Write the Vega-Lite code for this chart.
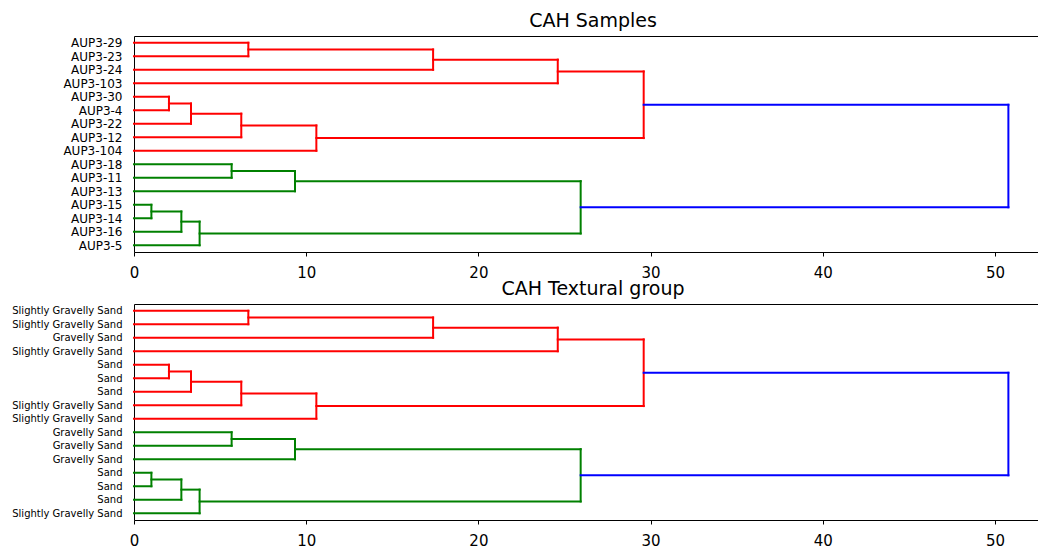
{
  "$schema": "https://vega.github.io/schema/vega-lite/v6.json",
  "padding": {"left": 11, "top": 12, "right": 0, "bottom": 0},
  "spacing": 0,
  "config": {
    "font": "DejaVu Sans",
    "view": {"stroke": null},
    "axis": {"domainColor": "black", "tickColor": "black", "labelColor": "black", "domainWidth": 1, "tickWidth": 1, "grid": false, "labelFont": "DejaVu Sans"},
    "title": {"font": "DejaVu Sans", "fontSize": 19, "fontWeight": "normal", "color": "black", "offset": 5, "baseline": "alphabetic", "dx": 7}
  },
  "datasets": {
    "links": [
      {"x": 0, "x2": 6.64, "y": 0.5, "y2": 0.5, "cluster": "C1"},
      {"x": 6.64, "x2": 6.64, "y": 0.5, "y2": 1.5, "cluster": "C1"},
      {"x": 0, "x2": 6.64, "y": 1.5, "y2": 1.5, "cluster": "C1"},
      {"x": 6.64, "x2": 17.37, "y": 1.0, "y2": 1.0, "cluster": "C1"},
      {"x": 17.37, "x2": 17.37, "y": 1.0, "y2": 2.5, "cluster": "C1"},
      {"x": 0, "x2": 17.37, "y": 2.5, "y2": 2.5, "cluster": "C1"},
      {"x": 17.37, "x2": 24.61, "y": 1.75, "y2": 1.75, "cluster": "C1"},
      {"x": 24.61, "x2": 24.61, "y": 1.75, "y2": 3.5, "cluster": "C1"},
      {"x": 0, "x2": 24.61, "y": 3.5, "y2": 3.5, "cluster": "C1"},
      {"x": 0, "x2": 2.03, "y": 4.5, "y2": 4.5, "cluster": "C1"},
      {"x": 2.03, "x2": 2.03, "y": 4.5, "y2": 5.5, "cluster": "C1"},
      {"x": 0, "x2": 2.03, "y": 5.5, "y2": 5.5, "cluster": "C1"},
      {"x": 2.03, "x2": 3.31, "y": 5.0, "y2": 5.0, "cluster": "C1"},
      {"x": 3.31, "x2": 3.31, "y": 5.0, "y2": 6.5, "cluster": "C1"},
      {"x": 0, "x2": 3.31, "y": 6.5, "y2": 6.5, "cluster": "C1"},
      {"x": 3.31, "x2": 6.23, "y": 5.75, "y2": 5.75, "cluster": "C1"},
      {"x": 6.23, "x2": 6.23, "y": 5.75, "y2": 7.5, "cluster": "C1"},
      {"x": 0, "x2": 6.23, "y": 7.5, "y2": 7.5, "cluster": "C1"},
      {"x": 6.23, "x2": 10.59, "y": 6.625, "y2": 6.625, "cluster": "C1"},
      {"x": 10.59, "x2": 10.59, "y": 6.625, "y2": 8.5, "cluster": "C1"},
      {"x": 0, "x2": 10.59, "y": 8.5, "y2": 8.5, "cluster": "C1"},
      {"x": 24.61, "x2": 29.6, "y": 2.625, "y2": 2.625, "cluster": "C1"},
      {"x": 29.6, "x2": 29.6, "y": 2.625, "y2": 7.5625, "cluster": "C1"},
      {"x": 10.59, "x2": 29.6, "y": 7.5625, "y2": 7.5625, "cluster": "C1"},
      {"x": 0, "x2": 5.67, "y": 9.5, "y2": 9.5, "cluster": "C2"},
      {"x": 5.67, "x2": 5.67, "y": 9.5, "y2": 10.5, "cluster": "C2"},
      {"x": 0, "x2": 5.67, "y": 10.5, "y2": 10.5, "cluster": "C2"},
      {"x": 5.67, "x2": 9.35, "y": 10.0, "y2": 10.0, "cluster": "C2"},
      {"x": 9.35, "x2": 9.35, "y": 10.0, "y2": 11.5, "cluster": "C2"},
      {"x": 0, "x2": 9.35, "y": 11.5, "y2": 11.5, "cluster": "C2"},
      {"x": 0, "x2": 1.01, "y": 12.5, "y2": 12.5, "cluster": "C2"},
      {"x": 1.01, "x2": 1.01, "y": 12.5, "y2": 13.5, "cluster": "C2"},
      {"x": 0, "x2": 1.01, "y": 13.5, "y2": 13.5, "cluster": "C2"},
      {"x": 1.01, "x2": 2.75, "y": 13.0, "y2": 13.0, "cluster": "C2"},
      {"x": 2.75, "x2": 2.75, "y": 13.0, "y2": 14.5, "cluster": "C2"},
      {"x": 0, "x2": 2.75, "y": 14.5, "y2": 14.5, "cluster": "C2"},
      {"x": 2.75, "x2": 3.81, "y": 13.75, "y2": 13.75, "cluster": "C2"},
      {"x": 3.81, "x2": 3.81, "y": 13.75, "y2": 15.5, "cluster": "C2"},
      {"x": 0, "x2": 3.81, "y": 15.5, "y2": 15.5, "cluster": "C2"},
      {"x": 9.35, "x2": 25.94, "y": 10.75, "y2": 10.75, "cluster": "C2"},
      {"x": 25.94, "x2": 25.94, "y": 10.75, "y2": 14.625, "cluster": "C2"},
      {"x": 3.81, "x2": 25.94, "y": 14.625, "y2": 14.625, "cluster": "C2"},
      {"x": 29.6, "x2": 50.78, "y": 5.09375, "y2": 5.09375, "cluster": "link"},
      {"x": 50.78, "x2": 50.78, "y": 5.09375, "y2": 12.6875, "cluster": "link"},
      {"x": 25.94, "x2": 50.78, "y": 12.6875, "y2": 12.6875, "cluster": "link"}
    ]
  },
  "vconcat": [
    {
      "title": {"text": "CAH Samples"},
      "width": 904,
      "height": 216,
      "data": {"name": "links"},
      "layer": [
        {
          "mark": {"type": "rule", "strokeWidth": 2, "strokeCap": "square"},
          "encoding": {
            "x": {"field": "x", "type": "quantitative", "scale": {"domain": [0, 52.5], "nice": false, "zero": false},
                  "axis": {"title": null, "values": [0, 10, 20, 30, 40, 50], "labelFontSize": 15, "tickSize": 4, "labelPadding": 9, "labelFlush": false}},
            "x2": {"field": "x2"},
            "y": {"field": "y", "type": "quantitative", "scale": {"domain": [0, 16], "reverse": true, "nice": false, "zero": false},
                  "axis": {"title": null, "values": [0.5, 1.5, 2.5, 3.5, 4.5, 5.5, 6.5, 7.5, 8.5, 9.5, 10.5, 11.5, 12.5, 13.5, 14.5, 15.5],
                           "labelExpr": "['AUP3-29','AUP3-23','AUP3-24','AUP3-103','AUP3-30','AUP3-4','AUP3-22','AUP3-12','AUP3-104','AUP3-18','AUP3-11','AUP3-13','AUP3-15','AUP3-14','AUP3-16','AUP3-5'][floor(datum.value)]",
                           "ticks": false, "labelFontSize": 12, "labelPadding": 12, "labelOverlap": false}},
            "y2": {"field": "y2"},
            "color": {"field": "cluster", "type": "nominal", "scale": {"domain": ["C1", "C2", "link"], "range": ["#ff0000", "#008000", "#0000ff"]}, "legend": null}
          }
        },
        {
          "mark": {"type": "rule", "strokeOpacity": 0},
          "encoding": {
            "x": {"field": "x", "type": "quantitative", "scale": {"domain": [0, 52.5], "nice": false, "zero": false},
                  "axis": {"orient": "top", "title": null, "labels": false, "ticks": false, "domain": true}}
          }
        }
      ],
      "resolve": {"axis": {"x": "independent"}}
    },
    {
      "title": {"text": "CAH Textural group"},
      "width": 904,
      "height": 216,
      "data": {"name": "links"},
      "layer": [
        {
          "mark": {"type": "rule", "strokeWidth": 2, "strokeCap": "square"},
          "encoding": {
            "x": {"field": "x", "type": "quantitative", "scale": {"domain": [0, 52.5], "nice": false, "zero": false},
                  "axis": {"title": null, "values": [0, 10, 20, 30, 40, 50], "labelFontSize": 15, "tickSize": 4, "labelPadding": 9, "labelFlush": false}},
            "x2": {"field": "x2"},
            "y": {"field": "y", "type": "quantitative", "scale": {"domain": [0, 16], "reverse": true, "nice": false, "zero": false},
                  "axis": {"title": null, "values": [0.5, 1.5, 2.5, 3.5, 4.5, 5.5, 6.5, 7.5, 8.5, 9.5, 10.5, 11.5, 12.5, 13.5, 14.5, 15.5],
                           "labelExpr": "['Slightly Gravelly Sand','Slightly Gravelly Sand','Gravelly Sand','Slightly Gravelly Sand','Sand','Sand','Sand','Slightly Gravelly Sand','Slightly Gravelly Sand','Gravelly Sand','Gravelly Sand','Gravelly Sand','Sand','Sand','Sand','Slightly Gravelly Sand'][floor(datum.value)]",
                           "ticks": false, "labelFontSize": 10, "labelPadding": 12, "labelOverlap": false}},
            "y2": {"field": "y2"},
            "color": {"field": "cluster", "type": "nominal", "scale": {"domain": ["C1", "C2", "link"], "range": ["#ff0000", "#008000", "#0000ff"]}, "legend": null}
          }
        },
        {
          "mark": {"type": "rule", "strokeOpacity": 0},
          "encoding": {
            "x": {"field": "x", "type": "quantitative", "scale": {"domain": [0, 52.5], "nice": false, "zero": false},
                  "axis": {"orient": "top", "title": null, "labels": false, "ticks": false, "domain": true}}
          }
        }
      ],
      "resolve": {"axis": {"x": "independent"}}
    }
  ]
}
